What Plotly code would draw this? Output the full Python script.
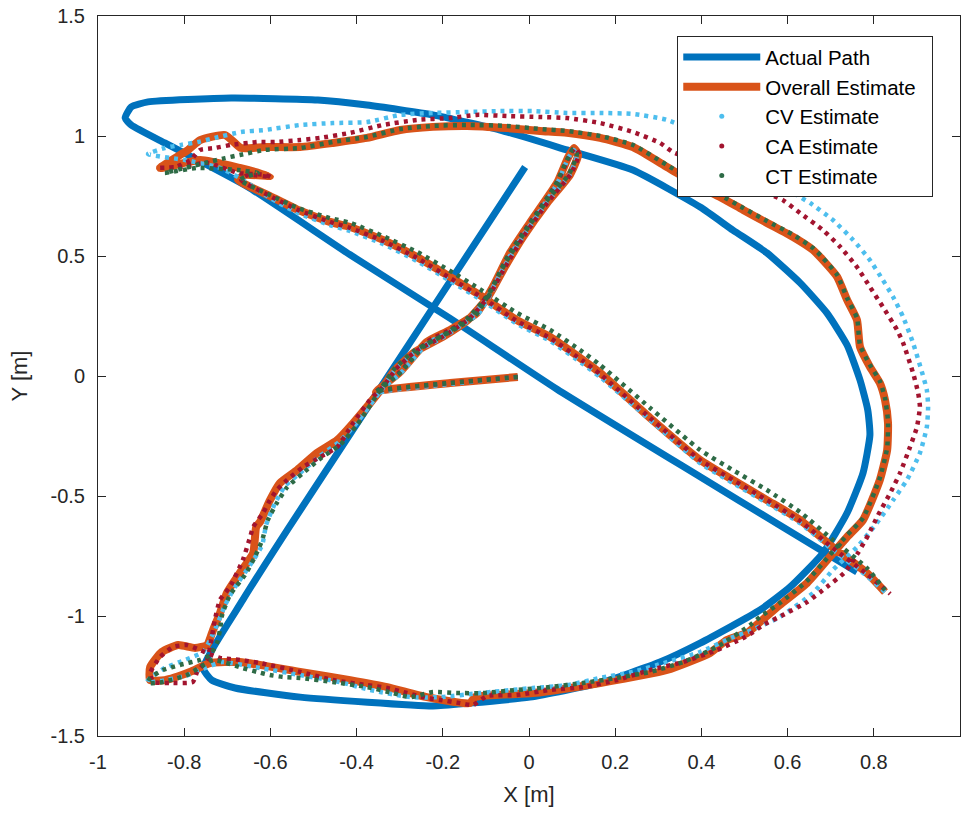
import plotly.graph_objects as go

# ---- Actual path (ground truth) ----
actual_x = [-0.009, -0.211, -0.561, -0.664, -0.756, -0.736, -0.682, -0.531, -0.223, -0.137,
            0.002, 0.165, 0.304, 0.397, 0.536, 0.606, 0.682, 0.738, 0.775, 0.791,
            0.786, 0.768, 0.738, 0.691, 0.629, 0.552, 0.473, 0.397, 0.241, 0.088,
            -0.067, -0.223, -0.376, -0.490, -0.691, -0.884, -0.923, -0.937, -0.923, -0.845,
            -0.768, -0.652, -0.415, -0.183, 0.065, 0.397, 0.582, 0.761]
actual_y = [0.871, 0.317, -0.642, -0.933, -1.217, -1.267, -1.300, -1.338, -1.375, -1.363,
            -1.338, -1.279, -1.192, -1.113, -0.975, -0.879, -0.738, -0.571, -0.404, -0.246,
            -0.142, -0.017, 0.129, 0.263, 0.388, 0.513, 0.608, 0.704, 0.858, 0.942,
            1.025, 1.088, 1.129, 1.150, 1.158, 1.142, 1.121, 1.075, 1.046, 0.971,
            0.900, 0.788, 0.505, 0.240, -0.055, -0.420, -0.622, -0.817]

# ---- Overall (fused) estimate ----
overall_x = [-0.026, -0.183, -0.339, -0.355, -0.299, -0.237, -0.183, -0.121, -0.084, -0.044,
             0.002, 0.065, 0.090, 0.104, 0.114, 0.095, 0.042, -0.014, -0.060, -0.095,
             -0.142, -0.200, -0.265, -0.311, -0.339, -0.408, -0.445, -0.492, -0.538, -0.578,
             -0.601, -0.624, -0.633, -0.640, -0.671, -0.701, -0.717, -0.733, -0.747, -0.775,
             -0.814, -0.852, -0.879, -0.879, -0.845, -0.787, -0.740, -0.671, -0.531, -0.415,
             -0.329, -0.237, -0.137, -0.125, 0.009, 0.165, 0.320, 0.420, 0.459, 0.506,
             0.536, 0.582, 0.645, 0.698, 0.738, 0.775, 0.814, 0.831, 0.833, 0.826,
             0.814, 0.791, 0.768, 0.761, 0.738, 0.715, 0.682, 0.659, 0.613, 0.552,
             0.497, 0.443, 0.397, 0.320, 0.241, 0.165, 0.088, 0.026, -0.051, -0.144,
             -0.223, -0.299, -0.376, -0.455, -0.531, -0.613, -0.668, -0.705, -0.763, -0.791,
             -0.856, -0.763, -0.671, -0.601, -0.659, -0.675, -0.601, -0.536, -0.462, -0.415,
             -0.339, -0.260, -0.183, -0.107, -0.028, 0.049, 0.125, 0.165, 0.281, 0.397,
             0.473, 0.552, 0.629, 0.705, 0.784, 0.826]
overall_y = [-0.004, -0.029, -0.058, -0.067, 0.017, 0.142, 0.192, 0.263, 0.371, 0.513,
             0.638, 0.804, 0.908, 0.950, 0.921, 0.838, 0.721, 0.579, 0.442, 0.329,
             0.233, 0.163, 0.100, 0.025, -0.046, -0.196, -0.267, -0.321, -0.392, -0.446,
             -0.517, -0.608, -0.629, -0.738, -0.821, -0.904, -0.988, -1.058, -1.121, -1.133,
             -1.121, -1.150, -1.213, -1.267, -1.267, -1.233, -1.196, -1.192, -1.233, -1.267,
             -1.296, -1.338, -1.363, -1.338, -1.321, -1.279, -1.225, -1.154, -1.100, -1.071,
             -1.025, -0.954, -0.863, -0.754, -0.671, -0.600, -0.433, -0.308, -0.196, -0.100,
             -0.029, 0.038, 0.121, 0.233, 0.317, 0.413, 0.483, 0.525, 0.579, 0.638,
             0.692, 0.746, 0.788, 0.871, 0.954, 0.992, 1.013, 1.021, 1.033, 1.042,
             1.038, 1.025, 0.992, 0.971, 0.954, 0.954, 0.950, 1.004, 0.983, 0.942,
             0.867, 0.900, 0.867, 0.833, 0.838, 0.817, 0.750, 0.692, 0.642, 0.621,
             0.567, 0.496, 0.413, 0.329, 0.233, 0.163, 0.067, 0.013, -0.175, -0.350,
             -0.433, -0.517, -0.600, -0.713, -0.821, -0.900]

# ---- Constant-velocity model estimate ----
cv_x = [-0.026, -0.183, -0.334, -0.350, -0.295, -0.234, -0.179, -0.118, -0.081, -0.042,
        0.005, 0.065, 0.090, 0.104, 0.111, 0.093, 0.039, -0.016, -0.063, -0.097,
        -0.144, -0.202, -0.267, -0.313, -0.341, -0.404, -0.441, -0.485, -0.531, -0.566,
        -0.589, -0.610, -0.619, -0.647, -0.682, -0.705, -0.724, -0.740, -0.756, -0.798,
        -0.845, -0.879, -0.886, -0.856, -0.798, -0.752, -0.712, -0.624, -0.531, -0.439,
        -0.369, -0.276, -0.206, -0.114, 0.009, 0.088, 0.165, 0.241, 0.320, 0.397,
        0.473, 0.506, 0.582, 0.659, 0.705, 0.761, 0.807, 0.845, 0.877, 0.907,
        0.923, 0.926, 0.923, 0.891, 0.868, 0.845, 0.821, 0.791, 0.752, 0.705,
        0.652, 0.613, 0.478, 0.320, 0.241, 0.165, 0.088, 0.009, -0.067, -0.144,
        -0.223, -0.299, -0.376, -0.455, -0.531, -0.613, -0.668, -0.729, -0.768, -0.807,
        -0.845, -0.884, -0.798, -0.717, -0.671, -0.601, -0.536, -0.462, -0.415, -0.339,
        -0.260, -0.183, -0.107, -0.028, 0.049, 0.125, 0.165, 0.281, 0.397, 0.473,
        0.552, 0.629, 0.705, 0.784, 0.826]
cv_y = [-0.004, -0.033, -0.063, -0.071, 0.017, 0.138, 0.188, 0.258, 0.367, 0.508,
        0.633, 0.800, 0.904, 0.942, 0.917, 0.833, 0.717, 0.575, 0.438, 0.325,
        0.229, 0.158, 0.096, 0.021, -0.054, -0.204, -0.275, -0.333, -0.404, -0.458,
        -0.529, -0.621, -0.704, -0.788, -0.879, -0.954, -1.038, -1.100, -1.150, -1.183,
        -1.217, -1.258, -1.275, -1.271, -1.250, -1.217, -1.192, -1.217, -1.246, -1.275,
        -1.308, -1.338, -1.338, -1.321, -1.300, -1.288, -1.258, -1.233, -1.192, -1.150,
        -1.088, -1.067, -1.004, -0.904, -0.808, -0.713, -0.613, -0.517, -0.433, -0.321,
        -0.213, -0.129, -0.058, 0.138, 0.246, 0.329, 0.400, 0.483, 0.567, 0.650,
        0.721, 0.763, 0.942, 1.067, 1.092, 1.096, 1.096, 1.104, 1.104, 1.100,
        1.096, 1.088, 1.058, 1.054, 1.046, 1.025, 1.017, 0.992, 0.975, 0.963,
        0.950, 0.925, 0.900, 0.867, 0.825, 0.742, 0.679, 0.629, 0.604, 0.550,
        0.479, 0.396, 0.313, 0.217, 0.146, 0.050, -0.004, -0.183, -0.363, -0.446,
        -0.529, -0.613, -0.725, -0.833, -0.900]

# ---- Constant-acceleration model estimate ----
ca_x = [-0.026, -0.183, -0.339, -0.355, -0.299, -0.237, -0.183, -0.121, -0.084, -0.044,
        0.002, 0.065, 0.093, 0.107, 0.116, 0.097, 0.044, -0.012, -0.058, -0.093,
        -0.139, -0.197, -0.262, -0.309, -0.339, -0.369, -0.408, -0.445, -0.485, -0.524,
        -0.561, -0.585, -0.601, -0.617, -0.640, -0.647, -0.664, -0.694, -0.717, -0.729,
        -0.733, -0.740, -0.747, -0.770, -0.780, -0.833, -0.872, -0.879, -0.856, -0.826,
        -0.794, -0.763, -0.717, -0.671, -0.624, -0.531, -0.455, -0.376, -0.329, -0.283,
        -0.237, -0.206, -0.160, -0.130, -0.097, -0.028, 0.049, 0.125, 0.204, 0.281,
        0.357, 0.436, 0.497, 0.520, 0.543, 0.589, 0.645, 0.691, 0.733, 0.763,
        0.787, 0.810, 0.838, 0.861, 0.884, 0.900, 0.907, 0.903, 0.891, 0.868,
        0.854, 0.821, 0.791, 0.761, 0.722, 0.682, 0.629, 0.589, 0.536, 0.443,
        0.334, 0.304, 0.241, 0.165, 0.088, 0.026, -0.051, -0.121, -0.183, -0.260,
        -0.339, -0.415, -0.485, -0.531, -0.589, -0.629, -0.691, -0.729, -0.763, -0.775,
        -0.784, -0.821, -0.861, -0.807, -0.745, -0.675, -0.613, -0.599, -0.652, -0.668,
        -0.601, -0.536, -0.462, -0.415, -0.339, -0.260, -0.183, -0.107, -0.028, 0.049,
        0.125, 0.165, 0.281, 0.397, 0.473, 0.552, 0.629, 0.705, 0.784, 0.838]
ca_y = [-0.004, -0.029, -0.058, -0.067, 0.017, 0.142, 0.192, 0.263, 0.371, 0.513,
        0.638, 0.804, 0.913, 0.950, 0.925, 0.842, 0.725, 0.583, 0.446, 0.333,
        0.238, 0.167, 0.104, 0.029, -0.046, -0.100, -0.196, -0.296, -0.338, -0.379,
        -0.433, -0.475, -0.517, -0.571, -0.629, -0.671, -0.767, -0.879, -0.933, -1.017,
        -1.058, -1.129, -1.183, -1.233, -1.275, -1.279, -1.275, -1.238, -1.171, -1.129,
        -1.121, -1.142, -1.175, -1.183, -1.196, -1.233, -1.267, -1.288, -1.300, -1.321,
        -1.342, -1.350, -1.363, -1.371, -1.333, -1.329, -1.308, -1.296, -1.267, -1.225,
        -1.192, -1.142, -1.092, -1.067, -1.038, -0.996, -0.942, -0.879, -0.817, -0.738,
        -0.663, -0.579, -0.488, -0.404, -0.296, -0.213, -0.129, -0.071, 0.013, 0.138,
        0.192, 0.288, 0.371, 0.454, 0.538, 0.608, 0.679, 0.733, 0.775, 0.867,
        0.933, 0.971, 1.017, 1.054, 1.075, 1.079, 1.083, 1.088, 1.075, 1.067,
        1.046, 1.013, 0.992, 0.983, 0.975, 0.975, 0.963, 0.950, 0.942, 0.921,
        0.900, 0.871, 0.867, 0.871, 0.888, 0.846, 0.838, 0.829, 0.838, 0.817,
        0.750, 0.692, 0.642, 0.617, 0.563, 0.492, 0.408, 0.325, 0.229, 0.158,
        0.063, 0.008, -0.175, -0.350, -0.433, -0.517, -0.604, -0.717, -0.825, -0.908]

# ---- Coordinated-turn model estimate ----
ct_x = [-0.026, -0.183, -0.339, -0.355, -0.304, -0.241, -0.188, -0.125, -0.088, -0.049,
        -0.002, 0.060, 0.088, 0.102, 0.111, 0.093, 0.039, -0.016, -0.063, -0.097,
        -0.144, -0.202, -0.267, -0.313, -0.341, -0.399, -0.439, -0.480, -0.524, -0.561,
        -0.585, -0.606, -0.619, -0.636, -0.659, -0.694, -0.712, -0.717, -0.724, -0.740,
        -0.763, -0.810, -0.849, -0.879, -0.884, -0.849, -0.794, -0.763, -0.733, -0.664,
        -0.631, -0.601, -0.571, -0.531, -0.455, -0.376, -0.316, -0.276, -0.223, -0.167,
        -0.107, -0.028, 0.049, 0.125, 0.204, 0.281, 0.357, 0.436, 0.513, 0.536,
        0.582, 0.645, 0.698, 0.738, 0.775, 0.814, 0.831, 0.833, 0.826, 0.814,
        0.791, 0.768, 0.761, 0.738, 0.715, 0.682, 0.659, 0.613, 0.552, 0.497,
        0.443, 0.397, 0.320, 0.241, 0.165, 0.088, 0.026, -0.051, -0.144, -0.223,
        -0.299, -0.376, -0.455, -0.531, -0.613, -0.671, -0.705, -0.752, -0.798, -0.845,
        -0.768, -0.675, -0.629, -0.659, -0.671, -0.601, -0.536, -0.462, -0.415, -0.339,
        -0.260, -0.183, -0.107, -0.028, 0.049, 0.125, 0.165, 0.281, 0.397, 0.473,
        0.552, 0.629, 0.705, 0.784, 0.826]
ct_y = [-0.004, -0.029, -0.058, -0.067, 0.004, 0.129, 0.179, 0.250, 0.358, 0.500,
        0.625, 0.792, 0.900, 0.946, 0.925, 0.842, 0.725, 0.583, 0.446, 0.333,
        0.238, 0.167, 0.104, 0.029, -0.046, -0.204, -0.288, -0.338, -0.404, -0.463,
        -0.529, -0.600, -0.683, -0.754, -0.829, -0.913, -0.996, -1.058, -1.113, -1.163,
        -1.183, -1.204, -1.225, -1.258, -1.279, -1.275, -1.246, -1.213, -1.183, -1.217,
        -1.233, -1.246, -1.254, -1.258, -1.275, -1.296, -1.321, -1.338, -1.317, -1.321,
        -1.321, -1.308, -1.296, -1.279, -1.258, -1.233, -1.192, -1.129, -1.038, -1.004,
        -0.946, -0.854, -0.746, -0.663, -0.592, -0.425, -0.300, -0.188, -0.092, -0.021,
        0.046, 0.129, 0.242, 0.325, 0.421, 0.492, 0.533, 0.588, 0.646, 0.700,
        0.754, 0.796, 0.879, 0.963, 1.000, 1.021, 1.029, 1.042, 1.046, 1.042,
        1.029, 0.996, 0.975, 0.950, 0.942, 0.921, 0.908, 0.888, 0.867, 0.846,
        0.867, 0.858, 0.846, 0.829, 0.817, 0.754, 0.700, 0.658, 0.638, 0.583,
        0.517, 0.438, 0.354, 0.263, 0.192, 0.100, 0.046, -0.133, -0.308, -0.392,
        -0.475, -0.567, -0.683, -0.800, -0.892]

x_tick_vals = [-1, -0.8, -0.6, -0.4, -0.2, 0, 0.2, 0.4, 0.6, 0.8, 1]
x_tick_text = ["-1", "-0.8", "-0.6", "-0.4", "-0.2", "0", "0.2", "0.4", "0.6", "0.8", "1"]
y_tick_vals = [-1.5, -1, -0.5, 0, 0.5, 1, 1.5]
y_tick_text = ["-1.5", "-1", "-0.5", "0", "0.5", "1", "1.5"]

C_ACTUAL = "#0072BD"
C_OVERALL = "#D95319"
C_CV = "#4DBEEE"
C_CA = "#A2142F"
C_CT = "#2E6B46"

FONT = "Arial, Liberation Sans, Helvetica, sans-serif"
NBSP = "\u00a0"

fig = go.Figure()

fig.add_trace(go.Scatter(x=actual_x, y=actual_y, mode="lines", name="Actual Path",
                         legendgroup="a",
                         line=dict(color=C_ACTUAL, width=7, shape="spline", smoothing=0.5)))
# trailing non-breaking spaces give the legend box some right-hand padding
fig.add_trace(go.Scatter(x=overall_x, y=overall_y, mode="lines",
                         name="Overall Estimate" + NBSP * 2,
                         legendgroup="o",
                         line=dict(color=C_OVERALL, width=8, shape="spline", smoothing=0.5)))

dotted = [("CV Estimate", cv_x, cv_y, C_CV),
          ("CA Estimate", ca_x, ca_y, C_CA),
          ("CT Estimate", ct_x, ct_y, C_CT)]
for name, xs, ys, col in dotted:
    fig.add_trace(go.Scatter(x=xs, y=ys, mode="lines", name=name, legendgroup=name,
                             showlegend=False, hoverinfo="skip",
                             line=dict(color=col, width=4.5, dash="4px,5px",
                                       shape="spline", smoothing=0.5)))
# legend entries for the dotted estimates show a single point marker
for name, xs, ys, col in dotted:
    fig.add_trace(go.Scatter(x=[None], y=[None], mode="markers", name=name,
                             legendgroup=name,
                             marker=dict(color=col, size=5)))

axis_font = dict(family=FONT, size=20, color="#262626")
title_font = dict(family=FONT, size=22, color="#262626")

fig.update_layout(
    width=962, height=816,
    margin=dict(l=98, r=2, t=16, b=80),
    paper_bgcolor="white", plot_bgcolor="white",
    showlegend=True,
    legend=dict(x=0.672, y=0.972, xanchor="left", yanchor="top",
                bgcolor="white", bordercolor="#262626", borderwidth=1,
                font=dict(family=FONT, size=20.5, color="black"),
                itemwidth=77, tracegroupgap=0),
    xaxis=dict(range=[-1, 1], tickmode="array", tickvals=x_tick_vals, ticktext=x_tick_text,
               showgrid=False, zeroline=False, showline=True, linecolor="#262626", linewidth=1,
               mirror="ticks", ticks="inside", ticklen=8, tickcolor="#262626",
               tickfont=axis_font, ticklabelstandoff=8,
               title=dict(text="X [m]", font=title_font, standoff=14)),
    yaxis=dict(range=[-1.5, 1.5], tickmode="array", tickvals=y_tick_vals, ticktext=y_tick_text,
               showgrid=False, zeroline=False, showline=True, linecolor="#262626", linewidth=1,
               mirror="ticks", ticks="inside", ticklen=8, tickcolor="#262626",
               tickfont=axis_font, ticklabelstandoff=8,
               title=dict(text="Y [m]", font=title_font, standoff=16)),
)

fig.write_html("out.html")
